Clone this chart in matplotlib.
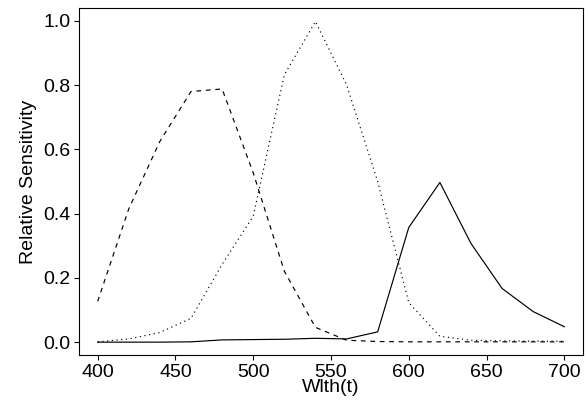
import matplotlib
matplotlib.use("Agg")
import matplotlib.pyplot as plt

plt.rcParams['font.family'] = ['Liberation Sans', 'DejaVu Sans']

wavelength = [400, 420, 440, 460, 480, 500, 520, 540, 560, 580, 600, 620, 640, 660, 680, 700]
red_cone = [0.0, 0.0, 0.0, 0.001, 0.007, 0.008, 0.009, 0.012, 0.010, 0.032, 0.357, 0.497, 0.307, 0.167, 0.095, 0.048]
blue_cone = [0.127, 0.415, 0.625, 0.780, 0.788, 0.527, 0.221, 0.046, 0.006, 0.002, 0.001, 0.001, 0.001, 0.001, 0.001, 0.001]
green_cone = [0.001, 0.010, 0.030, 0.074, 0.242, 0.392, 0.832, 0.998, 0.801, 0.500, 0.123, 0.018, 0.006, 0.004, 0.003, 0.003]

fig = plt.figure(figsize=(5.85, 4.0), dpi=100)
ax = fig.add_axes([79/585, 1-355/400, (583-79)/585, (355-8)/400])

ax.plot(wavelength, red_cone, color='black', lw=0.85, linestyle='-')
ax.plot(wavelength, blue_cone, color='black', lw=0.85, linestyle=(0, (4, 4)))
ax.plot(wavelength, green_cone, color='black', lw=0.85, linestyle=(0, (1, 3)))

ax.set_xlim(388, 712)
ax.set_ylim(-0.04, 1.04)
ax.set_xticks([400, 450, 500, 550, 600, 650, 700])
ax.set_yticks([0.0, 0.2, 0.4, 0.6, 0.8, 1.0])
ax.set_yticklabels(['0.0', '0.2', '0.4', '0.6', '0.8', '1.0'])
ax.tick_params(direction='out', length=3.8, width=0.8, labelsize=14, pad=2.5)
for s in ax.spines.values():
    s.set_linewidth(0.8)
ax.set_xlabel('Wlth(t)', fontsize=14, labelpad=-1)
ax.set_ylabel('Relative Sensitivity', fontsize=14, labelpad=4)

fig.savefig('out.png', dpi=100)
